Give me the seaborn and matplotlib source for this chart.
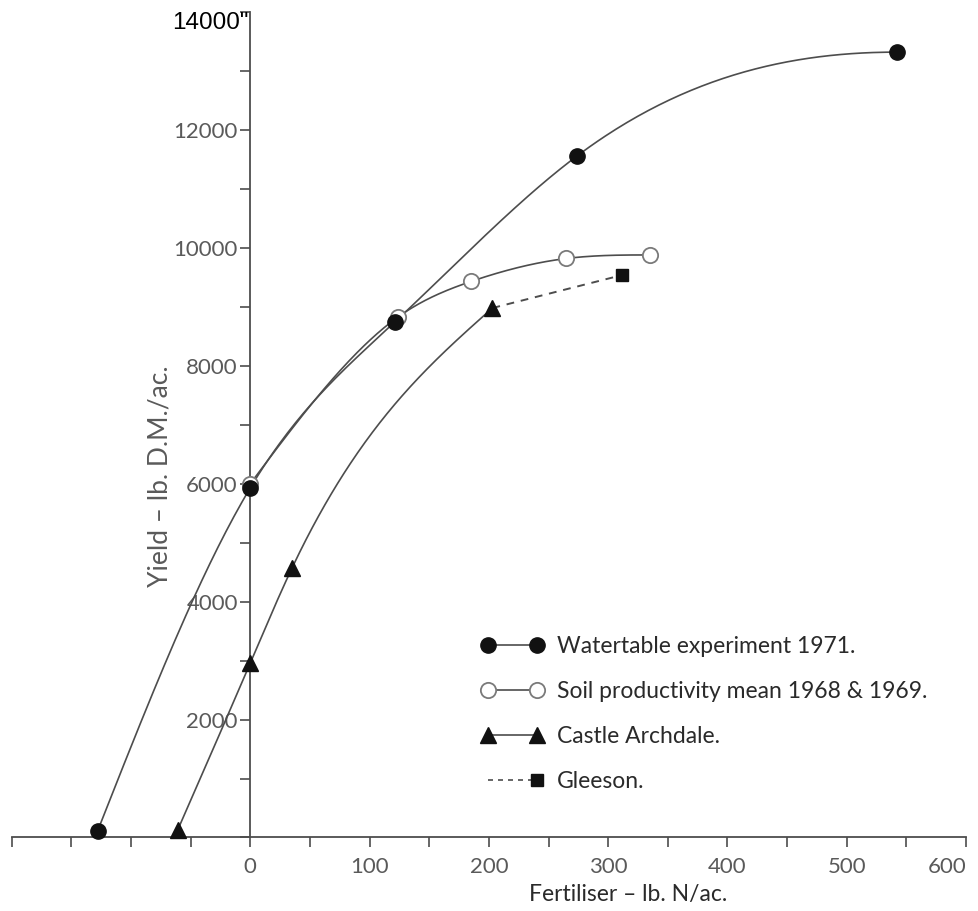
import numpy as np
import pandas as pd
import matplotlib
matplotlib.use("Agg")
import matplotlib.pyplot as plt
from matplotlib.lines import Line2D
import seaborn as sns

# ---- data ----
water_x = [-128, 0, 121, 274, 542]
water_y = [110, 5930, 8740, 11560, 13320]
soil_x = [0, 124, 185, 265, 335]
soil_y = [6000, 8830, 9430, 9820, 9880]
castle_x = [-61, 0, 35, 203]
castle_y = [120, 2960, 4570, 8980]
gleeson_x = [312]
gleeson_y = [9540]

x_ticks = list(range(-200, 601, 50))
x_labels = [str(v) if v >= 0 and v % 100 == 0 else "" for v in x_ticks]
y_ticks = list(range(0, 14001, 1000))
y_labels = [str(v) if v > 0 and v % 2000 == 0 and v < 14000 else "" for v in y_ticks]
top_label = '14000"'

series_names = ["Watertable experiment 1971.",
                "Soil productivity mean 1968 & 1969.",
                "Castle Archdale.",
                "Gleeson."]


def smooth(x, y, flat_end=False, n=300):
    """Cubic spline through the given points, used only to draw the connecting curve.
    Natural at the start; natural or flat (zero slope) at the end."""
    x = np.asarray(x, float)
    y = np.asarray(y, float)
    k = len(x)
    h = np.diff(x)
    A = np.zeros((k, k))
    r = np.zeros(k)
    A[0, 0] = 1
    if flat_end and k > 2:
        A[-1, -2] = h[-1]
        A[-1, -1] = 2 * h[-1]
        r[-1] = 3 * (0.0 - (y[-1] - y[-2]) / h[-1])
    else:
        A[-1, -1] = 1
    for i in range(1, k - 1):
        A[i, i - 1] = h[i - 1]
        A[i, i] = 2 * (h[i - 1] + h[i])
        A[i, i + 1] = h[i]
        r[i] = 3 * ((y[i + 1] - y[i]) / h[i] - (y[i] - y[i - 1]) / h[i - 1])
    c = np.linalg.solve(A, r)
    b = (y[1:] - y[:-1]) / h - h * (2 * c[:-1] + c[1:]) / 3
    d = (c[1:] - c[:-1]) / (3 * h)
    xs = np.linspace(x[0], x[-1], n)
    idx = np.clip(np.searchsorted(x, xs) - 1, 0, k - 2)
    dx = xs - x[idx]
    ys = y[idx] + b[idx] * dx + c[idx] * dx ** 2 + d[idx] * dx ** 3
    return pd.DataFrame({"x": xs, "y": ys})


sns.set_style("ticks")
plt.rcParams["font.family"] = ["Lato", "DejaVu Sans"]

LINE = "#4d4d4d"
TICK = "#5a5a5a"
TEXT = "#2a2a2a"

fig = plt.figure(figsize=(9.79, 9.11), dpi=100)
ax = fig.add_axes([0.01195, 0.0807, 0.9748, 0.9061])

# curves
for xs, ys, flat in [(water_x, water_y, True), (soil_x, soil_y, True),
                     (castle_x, castle_y, False)]:
    df = smooth(xs, ys, flat_end=flat)
    sns.lineplot(data=df, x="x", y="y", ax=ax, color=LINE, lw=1.2,
                 sort=False, estimator=None)
gl = smooth([castle_x[-1]] + gleeson_x, [castle_y[-1]] + gleeson_y)
sns.lineplot(data=gl, x="x", y="y", ax=ax, color=LINE, lw=1.4, ls=(0, (4, 3.5)),
             sort=False, estimator=None)

# markers
ax.plot(soil_x, soil_y, ls="none", marker="o", ms=11, mfc="white", mec="#7a7a7a",
        mew=1.3, clip_on=False, zorder=4)
ax.plot(water_x, water_y, ls="none", marker="o", ms=11, mfc="#111111", mec="#111111",
        clip_on=False, zorder=5)
ax.plot(castle_x, castle_y, ls="none", marker="^", ms=12, mfc="#111111", mec="#111111",
        clip_on=False, zorder=5)
ax.plot(gleeson_x, gleeson_y, ls="none", marker="s", ms=9, mfc="#111111", mec="#111111",
        clip_on=False, zorder=5)

ax.set_xlim(-200, 600)
ax.set_ylim(0, 14000)
sns.despine(ax=ax)
ax.spines["left"].set_position(("data", 0))
ax.spines["left"].set_bounds(0, 14000)
for s in ("left", "bottom"):
    ax.spines[s].set_color(LINE)
    ax.spines[s].set_linewidth(1.3)

ax.set_xticks(x_ticks)
ax.set_xticklabels(x_labels)
ax.set_yticks(y_ticks)
ax.set_yticklabels(y_labels)
ax.tick_params(axis="x", direction="out", length=7, width=1.2, color=LINE,
               labelsize=16, labelcolor=TICK, pad=7)
ax.tick_params(axis="y", direction="out", length=7, width=1.2, color=LINE,
               labelsize=16, labelcolor=TICK, pad=2)
xl = ax.get_xticklabels()
xl[-1].set_horizontalalignment("right")
xl[-1].set_x(603)

ax.annotate(top_label, xy=(0, 14000), xytext=(-1, -8), textcoords="offset points",
            ha="right", va="center", fontsize=17.5, color="black",
            family=["Liberation Sans", "DejaVu Sans"], annotation_clip=False)

ax.set_xlabel("Fertiliser \u2013 lb. N/ac.", fontsize=16.5, color=TEXT)
ax.xaxis.set_label_coords(0.6458, -0.056)
ax.set_ylabel("Yield \u2013 lb. D.M./ac.", fontsize=19, color=TICK)
ax.yaxis.set_label_coords(0.168, 0.438)

handles = [
    Line2D([], [], color=LINE, lw=1.2, marker="o", ms=11, mfc="#111111", mec="#111111"),
    Line2D([], [], color=LINE, lw=1.2, marker="o", ms=11, mfc="white", mec="#7a7a7a", mew=1.3),
    Line2D([], [], color=LINE, lw=1.2, marker="^", ms=12, mfc="#111111", mec="#111111"),
    Line2D([], [], color=LINE, lw=1.2, ls=(0, (3, 3)), marker="s", ms=9,
           mfc="#111111", mec="#111111"),
]
leg = ax.legend(handles, series_names, loc="upper left",
                bbox_to_anchor=(481 / 979, 1 - 636 / 911), bbox_transform=fig.transFigure,
                frameon=False, numpoints=2, handlelength=2.75, handletextpad=0.55,
                labelspacing=1.05, fontsize=16.5, borderaxespad=0, borderpad=0)
for t in leg.get_texts():
    t.set_color(TEXT)
# Gleeson entry: only the right-hand square
for art in leg.findobj(Line2D):
    if art.get_marker() == "s":
        xd = np.asarray(art.get_xdata())
        if xd.size >= 2:
            art.set_markevery([xd.size - 1])

fig.savefig("out.png", dpi=100)
